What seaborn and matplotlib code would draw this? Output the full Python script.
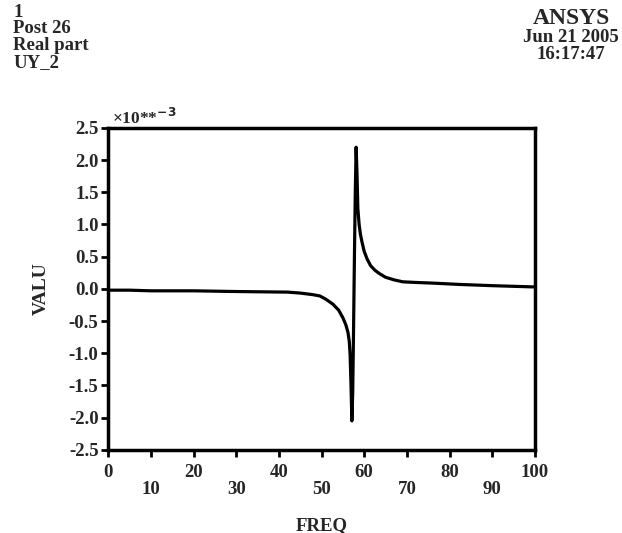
import matplotlib
matplotlib.use("Agg")
import matplotlib.pyplot as plt
import seaborn as sns
import pandas as pd

# harmonic response, real part of UY at node 2 (values in 1e-3)
freq = [0, 5, 10, 20, 29, 35, 42, 45, 48, 49.6, 51, 52.7, 54, 55, 55.7, 56.2, 56.5, 56.7,
        56.9, 57.1, 57.3, 57.5, 57.7, 57.9, 58.1, 58.3, 58.5, 58.8, 59.1, 59.5,
        60, 60.7, 61.5, 62.5, 63.5, 65, 67, 69, 72, 76, 82, 90, 100]
valu = [-0.02, -0.02, -0.03, -0.03, -0.04, -0.045, -0.05, -0.065, -0.09, -0.11, -0.16, -0.24,
        -0.33, -0.45, -0.56, -0.68, -0.82, -1.04, -1.5, -2.05, -1.6, -0.6, 0.5, 1.5, 2.2,
        1.8, 1.25, 1.0, 0.85, 0.72, 0.58, 0.46, 0.36, 0.29, 0.24, 0.18, 0.14, 0.11, 0.1,
        0.09, 0.07, 0.05, 0.03]

x_ticks = [0, 10, 20, 30, 40, 50, 60, 70, 80, 90, 100]
x_labels = ["0", "\n10", "20", "\n30", "40", "\n50", "60", "\n70", "80", "\n90", "100"]
y_ticks = [-2.5, -2.0, -1.5, -1.0, -0.5, 0.0, 0.5, 1.0, 1.5, 2.0, 2.5]

df = pd.DataFrame({"FREQ": freq, "VALU": valu})

sns.set_style("ticks")
plt.rcParams["font.family"] = ["Liberation Serif", "DejaVu Serif"]
plt.rcParams["font.weight"] = "bold"

fig = plt.figure(figsize=(6.22, 5.33), dpi=100)
ax = fig.add_axes([0.174, 0.156, 0.686, 0.604])

sns.lineplot(data=df, x="FREQ", y="VALU", color="black", linewidth=2.3, ax=ax)

ax.set_xlim(0, 100)
ax.set_ylim(-2.5, 2.5)
ax.set_xticks(x_ticks)
ax.set_xticklabels(x_labels, fontsize=13.5, fontweight="bold", linespacing=1.0)
ax.set_yticks(y_ticks)
ax.set_yticklabels([f"{v:.1f}" for v in y_ticks], fontsize=13.5, fontweight="bold")
ax.tick_params(direction="out", length=5, width=2, color="black", pad=2)
ax.tick_params(axis="x", pad=5)

for s in ax.spines.values():
    s.set_linewidth(2.5)
    s.set_color("black")

ax.set_xlabel("FREQ", fontsize=13.5, fontweight="bold", labelpad=14)
ax.set_ylabel("VALU", fontsize=14, fontweight="bold", labelpad=14)
ax.text(0.01, 1.0, r"×10**$^{-3}$", transform=ax.transAxes, fontsize=12.5,
        fontweight="bold", va="bottom", ha="left")

fig.text(0.021, 0.993, "1\nPost 26\nReal part\nUY_2", fontsize=13.5, fontweight="bold",
         va="top", ha="left", linespacing=0.97)
fig.text(0.918, 0.985, "ANSYS", fontsize=17, fontweight="bold", va="top", ha="center")
fig.text(0.918, 0.945, "Jun 21 2005\n16:17:47", fontsize=13.5, fontweight="bold",
         va="top", ha="center", linespacing=0.95)

fig.savefig("out.png", dpi=100, facecolor="white")
